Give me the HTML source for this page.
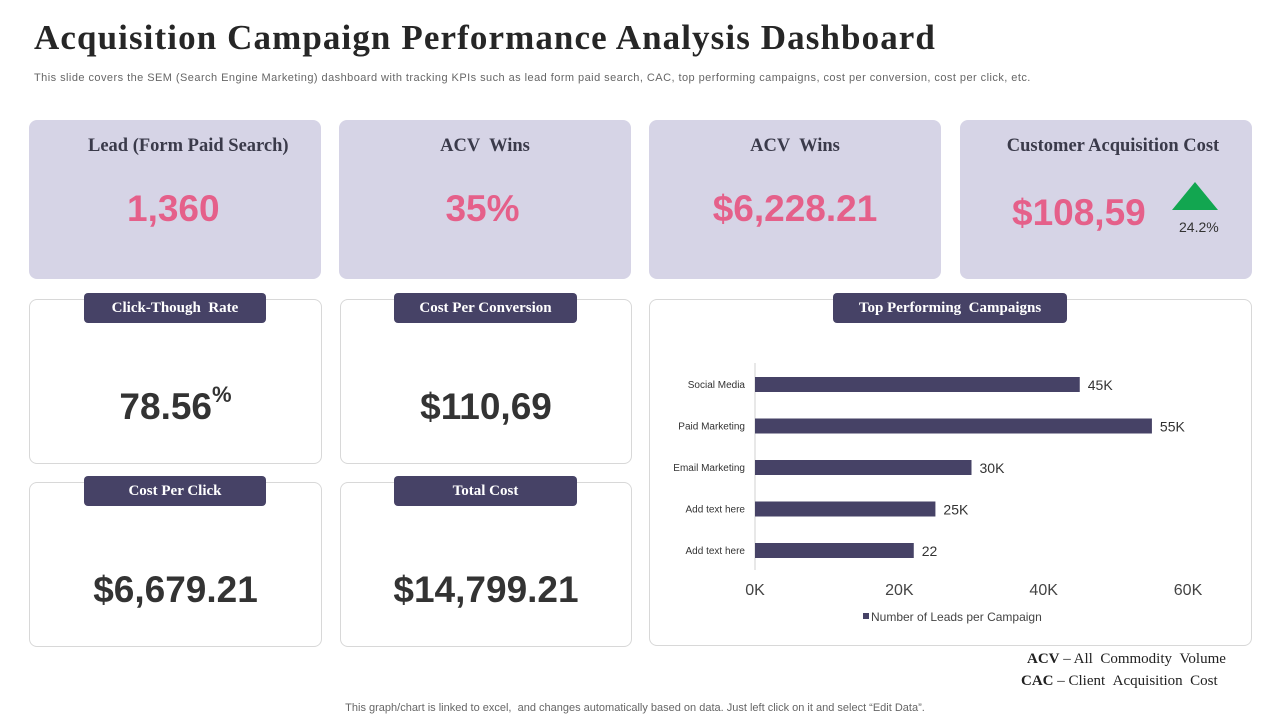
<!DOCTYPE html>
<html><head><meta charset="utf-8">
<style>
*{box-sizing:border-box;margin:0;padding:0}
body{width:1280px;height:720px;background:#fff;position:relative;font-family:"Liberation Sans",sans-serif;overflow:hidden}
.abs{position:absolute}
.title{left:34px;top:18px;font-family:"Liberation Serif",serif;font-weight:bold;font-size:35px;color:#262626;letter-spacing:1.1px}
.sub{left:34px;top:72px;font-size:11px;color:#666;letter-spacing:0.45px}
.kpi{background:#d6d4e6;border-radius:8px;width:292px;height:159px;top:120px}
.kpi .h{position:absolute;top:16px;left:0;right:0;text-align:center;font-family:"Liberation Serif",serif;font-weight:bold;font-size:18.5px;color:#3a3a4a}
.kpi .v{position:absolute;top:68px;left:0;right:0;text-align:center;font-weight:bold;font-size:37px;color:#e5608a}
.box{border:1px solid #d8d8d8;border-radius:8px;background:#fff}
.tag{background:#464266;color:#fff;border-radius:4px;height:30px;text-align:center;font-family:"Liberation Serif",serif;font-weight:bold;font-size:15px;line-height:30px}
.big{text-align:center;font-weight:bold;font-size:37px;color:#333}
</style></head><body>
<div class="abs title">Acquisition Campaign Performance Analysis Dashboard</div>
<div class="abs sub">This slide covers the SEM (Search Engine Marketing) dashboard with tracking KPIs such as lead form paid search, CAC, top performing campaigns, cost per conversion, cost per click, etc.</div>

<div class="abs kpi" style="left:29px"><div class="h" style="text-align:left;padding-left:59px">Lead (Form Paid Search)</div><div class="v" style="text-align:left;padding-left:98px">1,360</div></div>
<div class="abs kpi" style="left:339px"><div class="h">ACV &nbsp;Wins</div><div class="v" style="left:-5px">35%</div></div>
<div class="abs kpi" style="left:649px"><div class="h">ACV &nbsp;Wins</div><div class="v">$6,228.21</div></div>
<div class="abs kpi" style="left:960px"><div class="h" style="padding-left:14px">Customer Acquisition Cost</div><div class="v" style="left:52px;right:auto;top:72px">$108,59</div>
<svg class="abs" style="left:212px;top:62px" width="46" height="30"><polygon points="23,0 46,28 0,28" fill="#12a650"/></svg>
<div class="abs" style="left:219px;top:99px;font-size:14px;color:#333">24.2%</div></div>

<div class="abs box" style="left:29px;top:299px;width:293px;height:165px"><div class="abs big" style="left:0;right:0;top:86px">78.56<sup style="font-size:22px;vertical-align:top;position:relative;top:-4px">%</sup></div></div>
<div class="abs tag" style="left:84px;top:293px;width:182px">Click-Though &nbsp;Rate</div>
<div class="abs box" style="left:340px;top:299px;width:292px;height:165px"><div class="abs big" style="left:0;right:0;top:86px">$110,69</div></div>
<div class="abs tag" style="left:394px;top:293px;width:183px">Cost Per Conversion</div>
<div class="abs box" style="left:29px;top:482px;width:293px;height:165px"><div class="abs big" style="left:0;right:0;top:86px">$6,679.21</div></div>
<div class="abs tag" style="left:84px;top:476px;width:182px">Cost Per Click</div>
<div class="abs box" style="left:340px;top:482px;width:292px;height:165px"><div class="abs big" style="left:0;right:0;top:86px">$14,799.21</div></div>
<div class="abs tag" style="left:394px;top:476px;width:183px">Total Cost</div>

<div class="abs box" style="left:649px;top:299px;width:603px;height:347px"></div>
<div class="abs tag" style="left:833px;top:293px;width:234px">Top Performing &nbsp;Campaigns</div>
<svg id="chart" class="abs" style="left:0;top:0" width="1280" height="720"></svg>

<div class="abs" style="left:1027px;top:651px;font-family:'Liberation Serif',serif;font-size:15px;color:#222"><b>ACV</b> – All &nbsp;Commodity &nbsp;Volume</div>
<div class="abs" style="left:1021px;top:673px;font-family:'Liberation Serif',serif;font-size:15px;color:#222"><b>CAC</b> – Client &nbsp;Acquisition &nbsp;Cost</div>
<div class="abs" style="left:0;right:0;top:702px;text-align:center;font-size:11px;color:#666;padding-right:10px">This graph/chart is linked to excel, &nbsp;and changes automatically based on data. Just left click on it and select “Edit Data”.</div>

<script>
const categories=["Social Media","Paid Marketing","Email Marketing","Add text here","Add text here"];
const values=[45000,55000,30000,25000,22000];
const valueLabels=["45K","55K","30K","25K","22"];
const ticks=[0,20000,40000,60000];
const tickLabels=["0K","20K","40K","60K"];
const svg=document.getElementById('chart');
const NS='http://www.w3.org/2000/svg';
const x0=755,x1=1188,yTop=363,step=41.5;
function xs(v){return x0+(v/60000)*(x1-x0);}
function ys(i){return 384+i*step;}
function mk(t,a,txt){const e=document.createElementNS(NS,t);for(const k in a)e.setAttribute(k,a[k]);if(txt!==undefined)e.textContent=txt;svg.appendChild(e);return e;}
let ax=mk('line',{x1:x0,y1:yTop,x2:x0,y2:570,stroke:'#d0d0d0'});


categories.forEach((c,i)=>{
  let l=mk('text',{x:745,y:ys(i)+4,'text-anchor':'end','font-size':10,fill:'#333','font-family':'Liberation Sans'},c);
  
  
  let b=mk('rect',{x:x0,y:ys(i)-7,width:xs(values[i])-x0,height:15,fill:'#464266'});
  
  
  let v=mk('text',{x:xs(values[i])+8,y:ys(i)+6,'font-size':14,fill:'#333','font-family':'Liberation Sans'},valueLabels[i]);
  
  
});
ticks.forEach((t,i)=>{
  let e=mk('text',{x:xs(t),y:595,'text-anchor':'middle','font-size':16,fill:'#444','font-family':'Liberation Sans'},tickLabels[i]);
  
  
});
let lg=mk('rect',{x:863,y:613,width:6,height:6,fill:'#464266'});


let lt=mk('text',{x:871,y:621,'font-size':12,fill:'#444','font-family':'Liberation Sans'},'Number of Leads per Campaign');


</script>
</body></html>
